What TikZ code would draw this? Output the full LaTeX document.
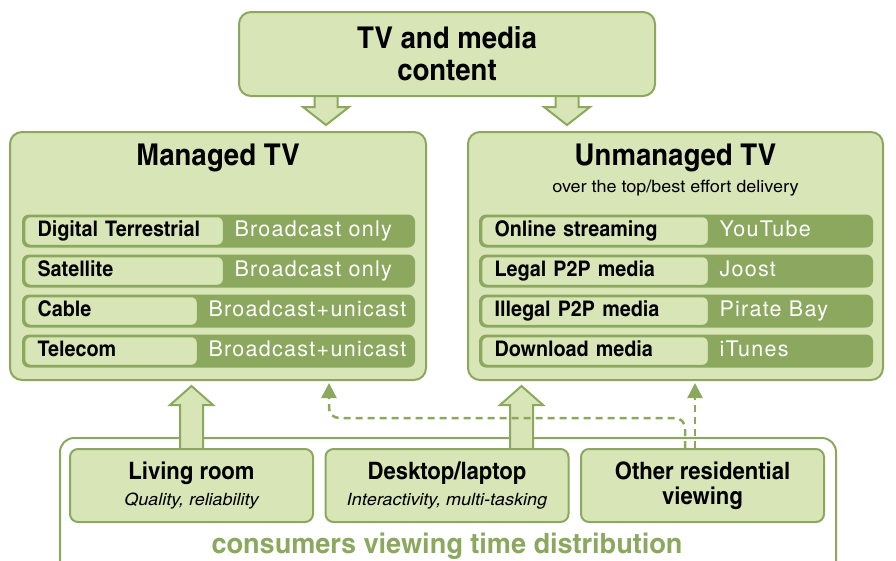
\documentclass[tikz,border=0pt]{standalone}
\usepackage{fontspec}
\setmainfont{texgyreheroscn}[Extension=.otf, UprightFont=*-regular,
  BoldFont=*-bold, ItalicFont=*-italic, BoldItalicFont=*-bolditalic, FakeStretch=1.12]
\newfontfamily\lightfont{texgyreheroscn}[Extension=.otf, UprightFont=*-regular,
  ItalicFont=*-italic, FakeStretch=1.29]
\newfontfamily\widebold{texgyreheroscn}[Extension=.otf, UprightFont=*-bold, FakeStretch=1.18]
\newfontfamily\valfont{TeX Gyre Heros}[LetterSpace=6]
\usetikzlibrary{arrows.meta}
\definecolor{lightgr}{HTML}{D8E6B7}
\definecolor{darkgr}{HTML}{8BA85E}

\begin{document}
\begin{tikzpicture}
      [ x=1pt, y=-1pt
      , box/.style={draw=darkgr, fill=lightgr, line width=2, rounded corners=12, inner sep=0}
      , smallbox/.style={box, rounded corners=8, minimum width=243, minimum height=73}
      , rowbg/.style={fill=darkgr, rounded corners=7, minimum height=33, inner sep=0}
      , rowkey/.style={draw=darkgr, fill=lightgr, line width=1.5, rounded corners=6, minimum height=29,
          inner xsep=13, inner ysep=0, align=left, anchor=west, font=\fontsize{21.5}{21.5}\selectfont\bfseries,
          text height=15, text depth=4}
      , rowval/.style={text=white, anchor=west, inner xsep=10, inner ysep=0,
          font=\fontsize{21.5}{21.5}\valfont, text height=15, text depth=4}
      , block/.style={draw=darkgr, fill=lightgr, line width=2, line join=miter}
      , other/.style={darkgr, line width=2.5, dash pattern=on 7 off 5,
          -{Triangle[width=15, length=15]}}
      ]
    \useasboundingbox (0,0) rectangle (896,560);

    % frame round the viewing places, cut by the page edge
    \draw[darkgr, line width=2, rounded corners=14] (60,561) -- (60,438) -- (836,438) -- (836,561);
    \node[darkgr, font=\fontsize{28}{28}\widebold] (dist) at (447,546) {consumers viewing time distribution};

    % block arrows
    \draw[block] (314.5,92) -- (314.5,107) -- (303,107) -- (326,125) -- (349,107) -- (337.5,107) -- (337.5,92);
    \draw[block] (555.5,92) -- (555.5,107) -- (544,107) -- (567,125) -- (590,107) -- (578.5,107) -- (578.5,92);
    \draw[block] (180,451) -- (180,405) -- (170,405) -- (191.5,386) -- (213,405) -- (203,405) -- (203,451);
    \draw[block] (510,451) -- (510,405) -- (500,405) -- (521.5,386) -- (543,405) -- (533,405) -- (533,451);

    \node[box, minimum width=416, minimum height=84, align=center,
      font=\fontsize{30}{32}\selectfont\bfseries] (content) at (447,54) {TV and media\\content};

    \node[box, minimum width=416, minimum height=248] (managed) at (218,256) {};
    \node[font=\fontsize{30}{30}\selectfont\bfseries] (managedT) at (218,158) {Managed TV};

    \node[box, minimum width=415, minimum height=248] (unmanaged) at (675.5,256) {};
    \node[font=\fontsize{30}{30}\selectfont\bfseries] (unmanagedT) at (675.5,158) {Unmanaged TV};
    \node[font=\fontsize{17}{17}\lightfont] (unmanagedS) at (675.5,188) {over the top/best effort delivery};

    % managed rows
    \node[rowbg, minimum width=393] (m1) at (218.5,231) {};
    \node[rowkey, text width=173] (mk1) at ([xshift=2]m1.west) {Digital Terrestrial};
    \node[rowval] (mv1) at (mk1.east) {Broadcast only};
    \node[rowbg, minimum width=393] (m2) at (218.5,271) {};
    \node[rowkey, text width=173] (mk2) at ([xshift=2]m2.west) {Satellite};
    \node[rowval] (mv2) at (mk2.east) {Broadcast only};
    \node[rowbg, minimum width=393] (m3) at (218.5,311) {};
    \node[rowkey, text width=147] (mk3) at ([xshift=2]m3.west) {Cable};
    \node[rowval] (mv3) at (mk3.east) {Broadcast+unicast};
    \node[rowbg, minimum width=393] (m4) at (218.5,351) {};
    \node[rowkey, text width=147] (mk4) at ([xshift=2]m4.west) {Telecom};
    \node[rowval] (mv4) at (mk4.east) {Broadcast+unicast};

    % unmanaged rows
    \node[rowbg, minimum width=394] (u1) at (676,231) {};
    \node[rowkey, text width=201] (uk1) at ([xshift=2]u1.west) {Online streaming};
    \node[rowval] (uv1) at (uk1.east) {YouTube};
    \node[rowbg, minimum width=394] (u2) at (676,271) {};
    \node[rowkey, text width=201] (uk2) at ([xshift=2]u2.west) {Legal P2P media};
    \node[rowval] (uv2) at (uk2.east) {Joost};
    \node[rowbg, minimum width=394] (u3) at (676,311) {};
    \node[rowkey, text width=201] (uk3) at ([xshift=2]u3.west) {Illegal P2P media};
    \node[rowval] (uv3) at (uk3.east) {Pirate Bay};
    \node[rowbg, minimum width=394] (u4) at (676,351) {};
    \node[rowkey, text width=201] (uk4) at ([xshift=2]u4.west) {Download media};
    \node[rowval] (uv4) at (uk4.east) {iTunes};

    % viewing places
    \node[smallbox, align=center] (living) at (191.5,485.5)
      {{\fontsize{24}{26}\selectfont\bfseries Living room}\\[7pt]{\fontsize{17}{20}\lightfont\itshape Quality, reliability}};
    \node[smallbox, align=center] (desktop) at (447,485.5)
      {{\fontsize{24}{26}\selectfont\bfseries Desktop/laptop}\\[7pt]{\fontsize{17}{20}\lightfont\itshape Interactivity, multi-tasking}};
    \node[smallbox, align=center, font=\fontsize{24}{25}\selectfont\bfseries] (otherres) at (702.5,485.5)
      {Other residential\\viewing};

    \coordinate (tipM) at (329,383);
    \coordinate (tipU) at (695,383);
    \coordinate (bend) at (329,418);
    \draw[other] (otherres.north -| tipU) -- (tipU);
    \draw[other, rounded corners=10] ([xshift=-10]otherres.north -| tipU) |- (bend) -- (tipM);

  \end{tikzpicture}
\end{document}
